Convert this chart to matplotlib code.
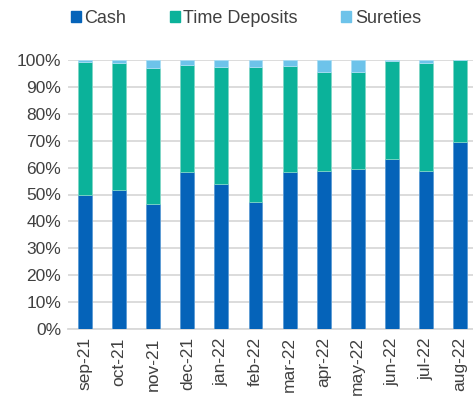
import numpy as np
import matplotlib.pyplot as plt
from matplotlib.ticker import PercentFormatter
from matplotlib.patches import Patch

plt.rcParams['font.family'] = ['Liberation Sans', 'DejaVu Sans']

months = ['sep-21', 'oct-21', 'nov-21', 'dec-21', 'jan-22', 'feb-22',
          'mar-22', 'apr-22', 'may-22', 'jun-22', 'jul-22', 'aug-22']
cash = [50.0, 51.8, 46.3, 58.2, 53.8, 47.1, 58.2, 58.9, 59.3, 63.1, 58.9, 69.4]
time_deposits = [49.4, 47.2, 50.8, 40.0, 43.5, 50.4, 39.4, 36.8, 36.4, 36.5, 40.1, 30.6]
sureties = [0.6, 1.0, 2.9, 1.8, 2.7, 2.5, 2.4, 4.3, 4.3, 0.4, 1.0, 0.0]

c_cash = '#0563B9'
c_td = '#0BB29A'
c_sur = '#6DC3EA'
txt = '#404040'

fig = plt.figure(figsize=(4.73, 4.01), dpi=100)
ax = fig.add_axes([68 / 473, 1 - 329 / 401, 405 / 473, 269 / 401])

x = np.arange(len(months))
w = 0.41
cash = np.array(cash)
td = np.array(time_deposits)
ax.bar(x, cash, w, color=c_cash, edgecolor='#5B9BD5', linewidth=0.6, zorder=3)
ax.bar(x, td, w, bottom=cash, color=c_td, edgecolor='#7FD6C6', linewidth=0.6, zorder=3)
ax.bar(x, sureties, w, bottom=cash + td, color=c_sur, edgecolor='#A9DDF4', linewidth=0.6, zorder=3)

ax.set_xlim(-0.5, 11.38)
ax.set_ylim(0, 100)
ax.set_yticks(np.arange(0, 101, 10))
ax.yaxis.set_major_formatter(PercentFormatter(decimals=0))
ax.set_xticks(x)
ax.set_xticklabels(months, rotation=90)
ax.tick_params(axis='both', length=0, labelsize=12.5, colors=txt, pad=5)
ax.tick_params(axis='x', pad=6)
ax.grid(axis='y', color='#D9D9D9', linewidth=1.3, zorder=0)
for s in ['top', 'right', 'left']:
    ax.spines[s].set_visible(False)
ax.spines['bottom'].set_color('#D9D9D9')
ax.spines['bottom'].set_linewidth(1.3)

handles = [Patch(color=c_cash), Patch(color=c_td), Patch(color=c_sur)]
fig.legend(handles, ['Cash', 'Time Deposits', 'Sureties'], loc='center',
           bbox_to_anchor=(0.52, 0.955), ncol=3, frameon=False, fontsize=13,
           handlelength=0.55, handleheight=0.55, handletextpad=0.2,
           columnspacing=2.4, labelcolor=txt)

fig.savefig('out.png', dpi=100)
